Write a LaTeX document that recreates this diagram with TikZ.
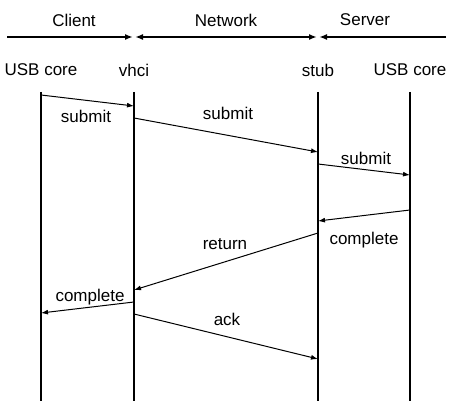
\documentclass[tikz,border=0pt]{standalone}
\usepackage{fontspec}
\setmainfont{Liberation Sans}
\usetikzlibrary{arrows.meta}

\begin{document}
\begin{tikzpicture}[x=1pt,y=-1pt]
				\tikzstyle{every node}=[font=\fontsize{17}{19}\selectfont,inner sep=1pt]
				\tikzstyle{life}=[line width=1.1pt]
				\tikzstyle{msg}=[line width=1pt,-{Latex[length=7pt,width=5pt]}]
				\tikzstyle{side}=[line width=2.2pt,-{Latex[length=8pt,width=6pt]}]
				\useasboundingbox (0,0) rectangle (456,401);
				% sides
				\node (client) at (74,20) {Client};
				\node (network) at (226,20) {Network};
				\node (server) at (365,20) {Server};
				\coordinate (l0) at (7,37);
				\coordinate (l1) at (134,37);
				\coordinate (l2) at (318,37);
				\coordinate (l3) at (446,37);
				\draw[side] (l0) -- ([xshift=-1pt]l1);
				\draw[side,{Latex[length=8pt,width=6pt]}-{Latex[length=8pt,width=6pt]}] ([xshift=1pt]l1) -- ([xshift=-1pt]l2);
				\draw[side] (l3) -- ([xshift=1pt]l2);
				% lifelines
				\node (usbc) at (41,70) {USB core};
				\node (vhci) at (134,70) {vhci};
				\node (stub) at (318,70) {stub};
				\node (usbs) at (410,70) {USB core};
				\draw[life] (41,92) coordinate (a0) -- (41,401) coordinate (a1);
				\draw[life] (134,92) coordinate (b0) -- (134,401) coordinate (b1);
				\draw[life] (318,92) coordinate (c0) -- (318,401) coordinate (c1);
				\draw[life] (410,92) coordinate (d0) -- (410,401) coordinate (d1);
				% messages
				\draw[msg] (a0 |- 0,95) coordinate (m1) -- (b0 |- 0,106) coordinate (m2);
				\node (s1) at (86,116) {submit};
				\draw[msg] (b0 |- 0,118) coordinate (m3) -- (c0 |- 0,152) coordinate (m4);
				\node (s2) at (228,113) {submit};
				\draw[msg] (c0 |- 0,164) coordinate (m5) -- (d0 |- 0,175) coordinate (m6);
				\node (s3) at (366,158) {submit};
				\draw[msg] (d0 |- 0,210) coordinate (m7) -- (c0 |- 0,221) coordinate (m8);
				\node (c2) at (364,240) {complete};
				\draw[msg] (c0 |- 0,233) coordinate (m9) -- (b0 |- 0,290) coordinate (m10);
				\node (r1) at (225,244) {return};
				\draw[msg] (b0 |- 0,302) coordinate (m11) -- (a0 |- 0,313) coordinate (m12);
				\node (c3) at (90,297) {complete};
				\draw[msg] (b0 |- 0,314) coordinate (m13) -- (c0 |- 0,359) coordinate (m14);
				\node (k1) at (227,319) {ack};
\end{tikzpicture}
\end{document}
